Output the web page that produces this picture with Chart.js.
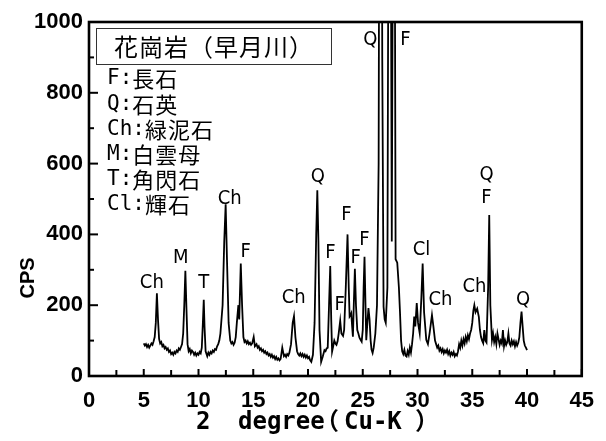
<!DOCTYPE html>
<html><head><meta charset="utf-8">
<script src="https://cdn.jsdelivr.net/npm/chart.js@4"></script>
<style>html,body{margin:0;padding:0;background:#fff}canvas{display:block}</style>
</head><body>
<canvas id="c" width="606" height="441"></canvas>
<script>
// 2θ (degree) values
const twoTheta = [
5.0,5.1,5.2,5.3,5.4,5.5,5.6,5.7,5.8,5.9,6.0,6.1,6.2,6.3,6.4,6.5,6.6,6.7,6.8,6.9,
7.0,7.1,7.2,7.3,7.4,7.5,7.6,7.7,7.8,7.9,8.0,8.1,8.2,8.3,8.4,8.5,8.6,8.7,8.8,8.9,
9.0,9.1,9.2,9.3,9.4,9.5,9.6,9.7,9.8,9.9,10.0,10.1,10.2,10.3,10.4,10.48,10.55,10.65,10.8,10.9,
11.0,11.1,11.2,11.3,11.4,11.5,11.6,11.7,11.8,11.9,12.0,12.2,12.35,12.48,12.6,12.75,12.9,13.0,13.1,13.2,
13.3,13.4,13.5,13.64,13.72,13.86,13.98,14.1,14.2,14.3,14.4,14.5,14.6,14.7,14.8,14.9,15.04,15.15,15.3,15.4,
15.5,15.6,15.7,15.8,15.9,16.0,16.1,16.2,16.3,16.4,16.5,16.6,16.7,16.8,16.9,17.0,17.1,17.2,17.3,17.4,
17.5,17.65,17.8,17.9,18.0,18.1,18.2,18.3,18.45,18.6,18.72,18.85,19.0,19.1,19.2,19.3,19.4,19.5,19.6,19.7,
19.8,19.9,20.0,20.1,20.2,20.3,20.45,20.6,20.75,20.85,20.95,21.05,21.2,21.35,21.5,21.6,21.7,21.8,21.92,22.03,
22.12,22.2,22.3,22.4,22.5,22.6,22.7,22.8,22.94,23.05,23.2,23.3,23.45,23.61,23.72,23.8,23.88,23.95,24.03,24.1,
24.18,24.28,24.38,24.5,24.6,24.7,24.8,24.9,25.0,25.08,25.16,25.25,25.32,25.42,25.52,25.62,25.72,25.8,25.9,26.0,
26.15,26.3,26.45,26.62,26.78,26.9,27.0,27.1,27.25,27.45,27.65,27.85,28.0,28.15,28.3,28.4,28.5,28.6,28.7,28.8,
28.9,29.0,29.1,29.2,29.3,29.4,29.5,29.6,29.7,29.8,29.93,30.05,30.2,30.35,30.47,30.6,30.8,30.95,31.1,31.32,
31.45,31.6,31.7,31.8,31.9,32.0,32.1,32.2,32.3,32.4,32.5,32.6,32.7,32.8,32.9,33.0,33.1,33.2,33.3,33.4,
33.5,33.6,33.7,33.8,33.9,34.0,34.1,34.2,34.3,34.4,34.5,34.6,34.7,34.8,34.9,35.0,35.1,35.19,35.3,35.45,
35.6,35.7,35.8,35.9,36.0,36.1,36.2,36.3,36.45,36.55,36.65,36.8,36.9,37.0,37.1,37.2,37.3,37.4,37.5,37.6,
37.7,37.8,37.9,38.0,38.1,38.2,38.3,38.4,38.5,38.6,38.7,38.8,38.9,39.0,39.1,39.2,39.3,39.4,39.5,39.6,
39.7,39.8,39.9,40.0
];
// intensity (CPS) values
const cps = [
92,86,90,82,88,80,86,92,88,98,110,150,234,160,105,92,96,84,88,78,
82,74,78,68,72,62,66,60,68,64,72,68,78,74,82,90,120,200,297,190,
90,70,76,64,72,68,60,66,58,64,60,68,64,80,150,215,140,70,56,66,
60,68,64,72,68,76,74,84,90,100,120,200,380,485,330,150,100,92,96,88,
94,110,150,200,160,318,200,110,96,100,92,98,90,94,88,92,110,84,90,80,
84,74,78,70,74,66,70,62,66,58,62,54,60,52,56,48,54,46,50,44,
48,80,56,60,54,62,58,66,90,150,169,110,70,62,58,64,56,62,54,60,
52,58,50,54,44,40,60,150,400,525,380,130,40,55,73,70,78,80,200,311,
160,69,84,100,92,88,98,120,156,120,113,130,250,400,250,168,172,177,140,111,
200,303,200,130,120,108,102,97,130,250,337,200,101,150,192,160,100,75,65,80,
120,200,600,3000,900,196,160,150,250,2500,380,2200,330,320,250,180,100,70,62,74,
58,55,70,60,80,66,90,120,168,140,206,150,121,220,318,180,102,90,120,172,
140,100,90,80,86,72,78,68,76,64,72,66,74,62,70,58,66,60,68,56,
62,58,70,90,80,100,86,104,92,110,98,115,104,120,130,150,185,200,180,190,
167,130,110,100,93,130,100,95,250,455,200,102,120,96,110,90,120,104,88,100,
92,130,84,100,88,96,120,92,86,100,90,98,84,96,86,94,110,150,182,140,
100,86,80,73
];
// peak labels: text, 2θ, CPS
const peakText = ["Ch","M","T","Ch","F","Ch","Q","F","F","F","F","F","Q","F","Cl","Ch","Ch","Q","F","Q"];
const peakX    = [5.74,8.39,10.48,12.85,14.3,18.7,20.9,22.05,22.9,23.5,24.35,25.15,25.7,28.9,30.36,32.1,35.2,36.3,36.3,39.65];
const peakY    = [263,333,263,500,350,220,562,347,200,455,333,384,949,949,356,215,251,568,503,215];
// legend texts
const boxTitle = "花崗岩（早月川）";
const legendKeys = ["F:","Q:","Ch:","M:","T:","Cl:"];
const legendNames = ["長石","石英","緑泥石","白雲母","角閃石","輝石"];
const xTitleParts = ["2","degree","（","Cu-K","）"];
const yTitle = "CPS";

const decor = {
  id: 'decor',
  afterDatasetsDraw(chart) {
    const {ctx, chartArea: a, scales: {x, y}} = chart;
    ctx.save();
    ctx.strokeStyle = '#000'; ctx.fillStyle = '#000';
    const line = (x1,y1,x2,y2)=>{ctx.beginPath();ctx.moveTo(x1,y1);ctx.lineTo(x2,y2);ctx.stroke();};
    ctx.lineWidth = 2;
    x.ticks.forEach((t,i)=>{
      const px = x.getPixelForValue(t.value);
      line(px, a.bottom, px, a.bottom-7);
      if (i < x.ticks.length-1) {
        const m = x.getPixelForValue((t.value + x.ticks[i+1].value)/2);
        line(m, a.bottom, m, a.bottom-6);
      }
    });
    y.ticks.forEach((t,i)=>{
      const py = y.getPixelForValue(t.value);
      line(a.left, py, a.left+9, py);
      if (i < y.ticks.length-1) {
        const m = y.getPixelForValue((t.value + y.ticks[i+1].value)/2);
        line(a.left, m, a.left+5, m);
      }
    });
    ctx.lineWidth = 2.6;
    ctx.strokeRect(a.left, a.top, a.right-a.left, a.bottom-a.top);

    // peak labels
    ctx.font = "20px 'Liberation Sans Narrow', 'DejaVu Sans Condensed', sans-serif";
    ctx.textAlign = 'center'; ctx.textBaseline = 'middle';
    peakText.forEach((s,i)=>{
      ctx.fillText(s, x.getPixelForValue(peakX[i]), y.getPixelForValue(peakY[i]));
    });

    // title box
    ctx.lineWidth = 1; ctx.strokeStyle = '#333';
    ctx.strokeRect(a.left+7.5, a.top+6.5, 235, 36);
    ctx.textAlign = 'left';
    ctx.font = "24px 'Noto Sans CJK JP'";
    if ('letterSpacing' in ctx) ctx.letterSpacing = '1px';
    ctx.fillText(boxTitle, a.left+25, a.top+25);
    if ('letterSpacing' in ctx) ctx.letterSpacing = '0px';

    legendKeys.forEach((k,i)=>{
      const ly = a.top + 57 + i*25.2;
      ctx.font = "21px 'DejaVu Sans Mono'";
      ctx.fillText(k, a.left+18, ly);
      const w = ctx.measureText(k).width;
      ctx.font = "22px 'Noto Sans CJK JP'";
      if ('letterSpacing' in ctx) ctx.letterSpacing = '1px';
      ctx.fillText(legendNames[i], a.left+18+w, ly);
      if ('letterSpacing' in ctx) ctx.letterSpacing = '0px';
    });

    // axis titles
    const ty = a.bottom + 47;
    ctx.font = "bold 24px 'DejaVu Sans Mono', 'Noto Sans CJK JP'";
    const xs = [107, 149, 226, 255, 326];
    xTitleParts.forEach((s,i)=> ctx.fillText(s, a.left+xs[i], ty));

    ctx.save();
    ctx.translate(28, a.top + 256);
    ctx.rotate(-Math.PI/2);
    ctx.textAlign = 'center';
    ctx.font = "bold 20px 'Liberation Sans', Arial, sans-serif";
    ctx.fillText(yTitle, 0, 0);
    ctx.restore();
    ctx.restore();
  }
};

new Chart(document.getElementById('c'), {
  type: 'line',
  data: {
    datasets: [{
      data: twoTheta.map((t,i)=>({x:t, y:cps[i]})),
      borderColor: '#000', borderWidth: 1.8, pointRadius: 0, tension: 0, clip: 0, fill: false
    }]
  },
  options: {
    responsive: false, animation: false, devicePixelRatio: 1,
    layout: { padding: { top: 22, right: 23, left: 0, bottom: 0 } },
    plugins: { legend: { display: false }, tooltip: { enabled: false } },
    scales: {
      x: {
        type: 'linear', min: 0, max: 45,
        ticks: { stepSize: 5, color: '#000', padding: 12, maxRotation: 0, autoSkip: false,
          callback: v => String(v),
          font: { family: "'Liberation Sans', Arial, sans-serif", size: 22, weight: 'bold' } },
        grid: { display: false, drawTicks: false }, border: { display: false },
        afterFit(s) { s.height = 65; }
      },
      y: {
        min: 0, max: 1000,
        ticks: { stepSize: 200, color: '#000', padding: 6,
          callback: v => String(v),
          font: { family: "'Liberation Sans', Arial, sans-serif", size: 22, weight: 'bold' } },
        grid: { display: false, drawTicks: false }, border: { display: false },
        afterFit(s) { s.width = 89; }
      }
    }
  },
  plugins: [decor]
});
</script>
</body></html>
